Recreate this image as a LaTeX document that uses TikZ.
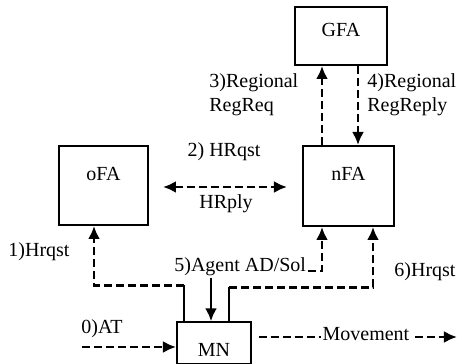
\documentclass[tikz,border=0pt]{standalone}
\usepackage{fontspec}
\setmainfont{Liberation Serif}
\usetikzlibrary{positioning, arrows.meta}

\begin{document}
\begin{tikzpicture}[x=0.5pt, y=-0.5pt]
  \tikzset{
    fabox/.style={
      draw,
      line width=1pt,
      anchor=center,
      fill=white
    },
    flow/.style={
      line width=1.4pt,
      dash pattern=on 4pt off 2pt,
      -{Latex[length=6.5pt,width=6pt]}
    },
    wire/.style={
      line width=0.8pt
    },
    msg/.style={
      font=\normalsize,
      inner sep=1pt
    }
  }
  \useasboundingbox (0,0) rectangle (462,364);

  % Draw the agents
  \node[fabox, minimum width=46pt, minimum height=29pt,
        text height=7pt, text depth=6pt] at (341,36) (GFA) {GFA};
  \node[fabox, minimum width=44.5pt, minimum height=39.5pt,
        text height=7pt, text depth=12pt] at (103.5,185.5) (oFA) {oFA};
  \node[fabox, minimum width=45.5pt, minimum height=40pt,
        text height=7pt, text depth=12pt] at (348.5,186) (nFA) {nFA};
  \node[fabox, minimum width=37pt, minimum height=20pt,
        text height=14pt, text depth=0pt] at (214,343) (MN) {MN};

  % Free ends
  \coordinate (atstart) at (82,347);
  \coordinate (movend) at (457,337);

  % Registration with GFA
  \draw[flow] ([xshift=-13.25pt]nFA.north) -- ([xshift=-13.25pt]nFA.north |- GFA.south);
  \draw[flow] ([xshift=8.5pt]GFA.south) -- ([xshift=8.5pt]GFA.south |- nFA.north);
  \node[msg, anchor=west, align=left] at (207,95) (regreq) {3)Regional\\RegReq};
  \node[msg, anchor=west, align=left] at (365,95) (regreply) {4)Regional\\RegReply};

  % Handoff between oFA and nFA
  \draw[flow, {Latex[length=6.5pt,width=6pt]}-{Latex[length=6.5pt,width=6pt]}]
    ([xshift=7pt,yshift=-0.75pt]oFA.east) -- ([xshift=-7.5pt,yshift=-0.5pt]nFA.west);
  \node[msg] at (224,152) (hrqst2) {2) HRqst};
  \node[msg] at (226,204) (hrply) {HRply};

  % Messages from MN
  \draw[wire] ([xshift=-15pt]MN.north) -- ++(0,-36);
  \draw[flow] ([xshift=-15pt,yshift=18pt]MN.north) -| ([xshift=-4.75pt]oFA.south);
  \node[msg] at (39,252) (hrqst1) {1)Hrqst};

  \node[msg, anchor=west] at (172,267) (agent) {5)Agent AD/Sol};
  \draw[line width=1.4pt, -{Latex[length=6.5pt,width=6pt]}]
    ([xshift=-1.5pt]MN.north |- agent.south) -- ([xshift=-1.5pt]MN.north);
  \draw[flow] ([yshift=-2pt]agent.east) -| ([xshift=-13.25pt]nFA.south);

  \draw[wire] ([xshift=7.5pt]MN.north) -- ++(0,-34);
  \draw[flow] ([xshift=7.5pt,yshift=17pt]MN.north) -| ([xshift=12.25pt]nFA.south);
  \node[msg] at (425,272) (hrqst6) {6)Hrqst};

  % Attachment and movement
  \node[msg] at (102,329) (at) {0)AT};
  \draw[flow] (atstart) -- ([yshift=-2pt]MN.west);
  \draw[flow] ([xshift=3.5pt,yshift=3pt]MN.east) -- (movend)
    node[msg, pos=0.54, fill=white, yshift=1.5pt] (move) {Movement};

\end{tikzpicture}
\end{document}
